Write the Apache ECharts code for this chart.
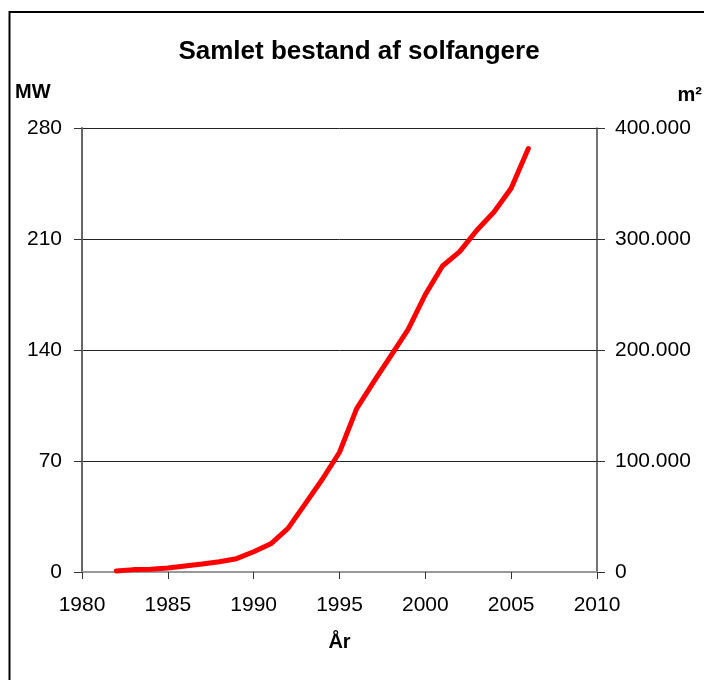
<!DOCTYPE html>
<html>
<head>
<meta charset="utf-8">
<script src="https://cdn.jsdelivr.net/npm/echarts@6/dist/echarts.min.js"></script>
<style>
html,body{margin:0;padding:0;background:#fff;}
#chart{width:704px;height:680px;}
</style>
</head>
<body>
<div id="chart"></div>
<script>
var years = [1982,1983,1984,1985,1986,1987,1988,1989,1990,1991,1992,1993,1994,1995,1996,1997,1998,1999,2000,2001,2002,2003,2004,2005,2006];
var capacityMW = [0.6,1.5,1.7,2.5,3.8,5,6.5,8.4,12.8,17.8,27.5,43,58.5,75.5,103,120,136.5,153,175,193,202,215.5,227,242,267];
var titleText = 'Samlet bestand af solfangere';
var leftUnit = 'MW';
var rightUnit = 'm²';
var xName = 'År';

var seriesData = years.map(function(y,i){return [y, capacityMW[i]];});
var FONT = '"Liberation Sans", Arial, sans-serif';

var chart = echarts.init(document.getElementById('chart'), null, {renderer:'canvas'});
chart.setOption({
  animation:false,
  backgroundColor:'#fff',
  grid:{left:82, right:107, top:128, bottom:108},
  xAxis:[{
    type:'value', min:1980, max:2010, interval:5,
    axisLine:{show:true, onZero:false, lineStyle:{color:'#333', width:1}},
    axisTick:{show:true, inside:false, length:7, lineStyle:{color:'#333'}},
    axisLabel:{color:'#000', fontSize:21, fontFamily:FONT, margin:23, showMinLabel:true, showMaxLabel:true,
      formatter:function(v){return String(v);}},
    splitLine:{show:false}
  },{
    type:'value', min:1980, max:2010, position:'top',
    axisLine:{show:true, lineStyle:{color:'#999', width:2}},
    axisTick:{show:false}, axisLabel:{show:false}, splitLine:{show:false}
  }],
  yAxis:[{
    type:'value', min:0, max:280, interval:70, position:'left',
    axisLine:{show:true, lineStyle:{color:'#666', width:2}},
    axisTick:{show:true, length:8, lineStyle:{color:'#333'}},
    axisLabel:{color:'#000', fontSize:21, fontFamily:FONT, margin:20},
    splitLine:{show:true, lineStyle:{color:'#222', width:1}}
  },{
    type:'value', min:0, max:400000, interval:100000, position:'right',
    axisLine:{show:true, lineStyle:{color:'#444', width:1.5}},
    axisTick:{show:true, length:8, lineStyle:{color:'#333'}},
    axisLabel:{color:'#000', fontSize:21, fontFamily:FONT, margin:18,
      formatter:function(v){return String(v).replace(/\B(?=(\d{3})+(?!\d))/g,'.');}},
    splitLine:{show:false}
  }],
  series:[{
    type:'line', xAxisIndex:0, yAxisIndex:0,
    data:seriesData, showSymbol:false, symbol:'none',
    lineStyle:{color:'#ff0000', width:5, cap:'round', join:'round'},
    z:5
  }],
  graphic:[
    {type:'rect', shape:{x:9.5, y:12, width:900, height:900}, style:{fill:'none', stroke:'#000', lineWidth:2}, silent:true},
    {type:'text', style:{text:titleText, x:359, y:52, textAlign:'center', textVerticalAlign:'middle', font:'bold 26px '+FONT, fill:'#000'}},
    {type:'text', style:{text:leftUnit, x:15, y:92, textAlign:'left', textVerticalAlign:'middle', font:'bold 20px '+FONT, fill:'#000'}},
    {type:'text', style:{text:rightUnit, x:702, y:95, textAlign:'right', textVerticalAlign:'middle', font:'bold 20px '+FONT, fill:'#000'}},
    {type:'text', style:{text:xName, x:339.5, y:642, textAlign:'center', textVerticalAlign:'middle', font:'bold 20px '+FONT, fill:'#000'}}
  ]
});
</script>
</body>
</html>
